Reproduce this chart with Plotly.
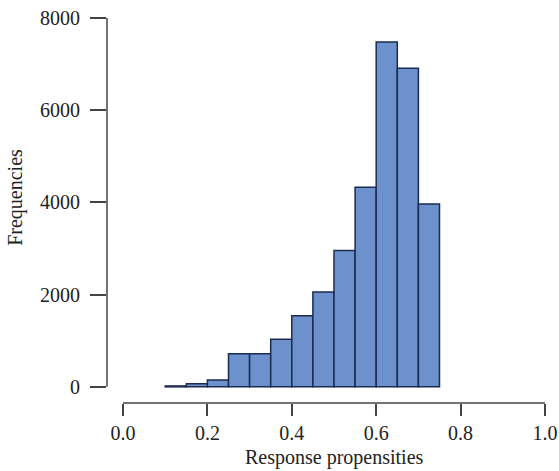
import plotly.graph_objects as go

bin_left = [0.10, 0.15, 0.20, 0.25, 0.30, 0.35, 0.40, 0.45, 0.50, 0.55, 0.60, 0.65, 0.70]
bin_width = 0.05
counts = [20, 65, 150, 720, 720, 1035, 1545, 2060, 2960, 4330, 7480, 6910, 3965]
x_ticks = [0.0, 0.2, 0.4, 0.6, 0.8, 1.0]
x_tick_labels = ["0.0", "0.2", "0.4", "0.6", "0.8", "1.0"]
y_ticks = [0, 2000, 4000, 6000, 8000]
y_tick_labels = ["0", "2000", "4000", "6000", "8000"]

centers = [b + bin_width / 2 for b in bin_left]

font = dict(family="Liberation Serif, Times New Roman, serif", size=20, color="#222")
axis_color = "#444"

fig = go.Figure()
fig.add_trace(go.Bar(
    x=centers, y=counts, width=[bin_width] * len(centers),
    marker=dict(color="#6c91cc", line=dict(color="#1b2c4e", width=1.5)),
    hoverinfo="x+y",
))

fig.update_layout(
    width=559, height=471,
    margin=dict(l=107, r=14, t=18, b=68, autoexpand=False),
    paper_bgcolor="white", plot_bgcolor="white",
    showlegend=False, font=font,
    xaxis=dict(range=[-0.0379, 1.0], tickvals=x_ticks, ticktext=x_tick_labels,
               ticks="outside", ticklen=12, tickwidth=1.5, tickcolor=axis_color,
               showgrid=False, zeroline=False, showline=False, tickfont=font,
               automargin=False),
    yaxis=dict(range=[-350, 8000], tickvals=y_ticks, ticktext=y_tick_labels,
               ticks="outside", ticklen=16, tickwidth=1.5, tickcolor=axis_color,
               showgrid=False, zeroline=False, showline=False, tickfont=font,
               automargin=False, ticklabelstandoff=6),
    shapes=[
        dict(type="line", xref="x", yref="paper", x0=0, x1=1, y0=0, y1=0,
             line=dict(color=axis_color, width=1.5)),
        dict(type="line", xref="paper", yref="y", x0=0, x1=0, y0=0, y1=8000,
             line=dict(color=axis_color, width=1.5)),
    ],
    annotations=[
        dict(text="Response propensities", xref="x", yref="paper", x=0.5, y=0,
             yshift=-54, showarrow=False, font=font, yanchor="middle"),
        dict(text="Frequencies", xref="paper", yref="y", x=0, y=4100, xshift=-91,
             textangle=-90, showarrow=False, font=font, xanchor="center"),
    ],
)

fig.write_html("out.html")
